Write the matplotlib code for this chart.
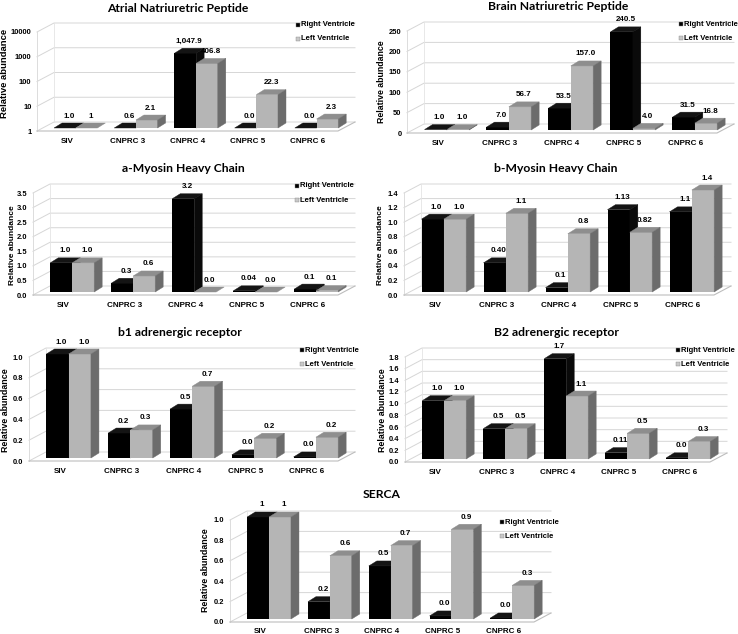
import matplotlib
matplotlib.use("Agg")
import matplotlib.pyplot as plt
from matplotlib.patches import Polygon, Rectangle
from matplotlib.transforms import IdentityTransform, ScaledTranslation

# ---------------- data ----------------
categories = ["SIV", "CNPRC 3", "CNPRC 4", "CNPRC 5", "CNPRC 6"]
series_names = ["Right Ventricle", "Left Ventricle"]

anp_rv = [1.0, 0.6, 1047.9, 0.0, 0.0]
anp_lv = [1.0, 2.1, 406.8, 22.3, 2.3]
anp_rv_labels = ["1.0", "0.6", "1,047.9", "0.0", "0.0"]
anp_lv_labels = ["1", "2.1", "406.8", "22.3", "2.3"]
anp_ticks = [1, 10, 100, 1000, 10000]
anp_tick_labels = ["1", "10", "100", "1000", "10000"]

bnp_rv = [1.0, 7.0, 53.5, 240.5, 31.5]
bnp_lv = [1.0, 56.7, 157.0, 4.0, 16.8]
bnp_rv_labels = ["1.0", "7.0", "53.5", "240.5", "31.5"]
bnp_lv_labels = ["1.0", "56.7", "157.0", "4.0", "16.8"]
bnp_ticks = [0, 50, 100, 150, 200, 250]
bnp_tick_labels = ["0", "50", "100", "150", "200", "250"]

amhc_rv = [1.0, 0.3, 3.2, 0.04, 0.1]
amhc_lv = [1.0, 0.55, 0.0, 0.0, 0.05]
amhc_rv_labels = ["1.0", "0.3", "3.2", "0.04", "0.1"]
amhc_lv_labels = ["1.0", "0.6", "0.0", "0.0", "0.1"]
amhc_ticks = [0.0, 0.5, 1.0, 1.5, 2.0, 2.5, 3.0, 3.5]
amhc_tick_labels = ["0.0", "0.5", "1.0", "1.5", "2.0", "2.5", "3.0", "3.5"]

bmhc_rv = [1.0, 0.40, 0.06, 1.13, 1.1]
bmhc_lv = [1.0, 1.08, 0.8, 0.82, 1.4]
bmhc_rv_labels = ["1.0", "0.40", "0.1", "1.13", "1.1"]
bmhc_lv_labels = ["1.0", "1.1", "0.8", "0.82", "1.4"]
bmhc_ticks = [0.0, 0.2, 0.4, 0.6, 0.8, 1.0, 1.2, 1.4]
bmhc_tick_labels = ["0.0", "0.2", "0.4", "0.6", "0.8", "1.0", "1.2", "1.4"]

b1_rv = [1.0, 0.24, 0.47, 0.03, 0.01]
b1_lv = [1.0, 0.27, 0.69, 0.19, 0.2]
b1_rv_labels = ["1.0", "0.2", "0.5", "0.0", "0.0"]
b1_lv_labels = ["1.0", "0.3", "0.7", "0.2", "0.2"]
b1_ticks = [0.0, 0.2, 0.4, 0.6, 0.8, 1.0]
b1_tick_labels = ["0.0", "0.2", "0.4", "0.6", "0.8", "1.0"]

b2_rv = [1.0, 0.52, 1.72, 0.11, 0.02]
b2_lv = [1.0, 0.52, 1.08, 0.44, 0.3]
b2_rv_labels = ["1.0", "0.5", "1.7", "0.11", "0.0"]
b2_lv_labels = ["1.0", "0.5", "1.1", "0.5", "0.3"]
b2_ticks = [0.0, 0.2, 0.4, 0.6, 0.8, 1.0, 1.2, 1.4, 1.6, 1.8]
b2_tick_labels = ["0.0", "0.2", "0.4", "0.6", "0.8", "1.0", "1.2", "1.4", "1.6", "1.8"]

serca_rv = [1.0, 0.17, 0.52, 0.03, 0.01]
serca_lv = [1.0, 0.62, 0.72, 0.88, 0.33]
serca_rv_labels = ["1", "0.2", "0.5", "0.0", "0.0"]
serca_lv_labels = ["1", "0.6", "0.7", "0.9", "0.3"]
serca_ticks = [0.0, 0.2, 0.4, 0.6, 0.8, 1.0]
serca_tick_labels = ["0.0", "0.2", "0.4", "0.6", "0.8", "1.0"]

titles = ["Atrial Natriuretric Peptide", "Brain Natriuretric Peptide",
          "a-Myosin Heavy Chain", "b-Myosin Heavy Chain",
          "b1 adrenergic receptor", "B2 adrenergic receptor", "SERCA"]
y_title = "Relative abundance"

# ---------------- layout (figure pixels, y from top) ----------------
W, H = 738, 634
fig = plt.figure(figsize=(W / 100, H / 100), dpi=100)
fig.patch.set_facecolor("white")

BOLD = dict(family="Liberation Sans", weight="bold")
TITLE_FONT = dict(family="Lato", weight="bold", size=8.7)

panels = [
    dict(title=titles[0], rv=anp_rv, lv=anp_lv, rvl=anp_rv_labels, lvl=anp_lv_labels,
         ticks=anp_ticks, tl=anp_tick_labels, log=True,
         box=(37, 338, 131, 32), tpos=(178, 8), leg=(298, 25), ylab=(5, 73, 6.8), xpad=5),
    dict(title=titles[1], rv=bnp_rv, lv=bnp_lv, rvl=bnp_rv_labels, lvl=bnp_lv_labels,
         ticks=bnp_ticks, tl=bnp_tick_labels, log=False,
         box=(407, 717, 133, 31), tpos=(558, 7), leg=(681, 24), ylab=(381, 82, 6.3), xpad=5),
    dict(title=titles[2], rv=amhc_rv, lv=amhc_lv, rvl=amhc_rv_labels, lvl=amhc_lv_labels,
         ticks=amhc_ticks, tl=amhc_tick_labels, log=False,
         box=(33, 338, 295, 193), tpos=(183, 168), leg=(297, 186), ylab=(12, 245, 6.0), xpad=5),
    dict(title=titles[3], rv=bmhc_rv, lv=bmhc_lv, rvl=bmhc_rv_labels, lvl=bmhc_lv_labels,
         ticks=bmhc_ticks, tl=bmhc_tick_labels, log=False,
         box=(404, 714, 295, 193), tpos=(556, 168), leg=None, ylab=(381, 245, 6.0), xpad=5),
    dict(title=titles[4], rv=b1_rv, lv=b1_lv, rvl=b1_rv_labels, lvl=b1_lv_labels,
         ticks=b1_ticks, tl=b1_tick_labels, log=False,
         box=(29, 338, 461, 357), tpos=(180, 333), leg=(302, 350), ylab=(6, 410, 6.4), xpad=5),
    dict(title=titles[5], rv=b2_rv, lv=b2_lv, rvl=b2_rv_labels, lvl=b2_lv_labels,
         ticks=b2_ticks, tl=b2_tick_labels, log=False,
         box=(405, 710, 462, 357), tpos=(557, 333), leg=(678, 350), ylab=(382, 410, 6.4), xpad=5),
    dict(title=titles[6], rv=serca_rv, lv=serca_lv, rvl=serca_rv_labels, lvl=serca_lv_labels,
         ticks=serca_ticks, tl=serca_tick_labels, log=False,
         box=(230, 534, 622, 520), tpos=(382, 495), leg=(502, 522), ylab=(205, 570, 6.4), xpad=4),
]

WALL = (17, 9)      # back-wall depth offset in pixels (right, up)
FRONT = (2, 3)      # bar front-face offset from the floor front edge
DEPTH = (8, 5)      # bar depth (right, up)
BW = 0.36           # bar width (category units)
SHIFT = -0.25       # left edge of the pair relative to category centre

COL = {
    0: dict(front="#000000", top="#141414", side="#0a0a0a", leg="#000000"),
    1: dict(front="#b5b5b5", top="#8e8e8e", side="#6c6c6c", leg="#c8c8c8"),
}

ident = IdentityTransform()


def poly(ax, pts, color, z):
    p = Polygon(pts, closed=True, facecolor=color, edgecolor=color, lw=0.3,
                transform=ident, zorder=z, clip_on=False)
    ax.add_artist(p)


def line(ax, xs, ys, color, lw=0.8, z=0.5):
    ax.add_artist(plt.Line2D(xs, ys, color=color, lw=lw, transform=ident,
                             zorder=z, clip_on=False))


for pan in panels:
    x0, x1, y0, yt = pan["box"]
    ax = fig.add_axes([x0 / W, 1 - y0 / H, (x1 - x0) / W, (y0 - yt) / H])
    ax.set_xlim(-0.5, len(categories) - 0.5)
    if pan["log"]:
        ax.set_yscale("log")
    ax.set_ylim(pan["ticks"][0], pan["ticks"][-1])
    base = pan["ticks"][0]
    for s in ax.spines.values():
        s.set_visible(False)
    ax.patch.set_visible(False)

    # ticks
    ax.set_xticks(range(len(categories)))
    ax.set_xticklabels(categories, fontsize=5.8, **BOLD)
    ax.set_yticks(pan["ticks"])
    ax.set_yticklabels(pan["tl"], fontsize=5.4, **BOLD)
    ax.minorticks_off()
    ax.tick_params(axis="both", length=0)
    ax.tick_params(axis="y", pad=4)
    ax.tick_params(axis="x", pad=pan["xpad"])

    lx, ly, ls = pan["ylab"]
    fig.text(lx / W, 1 - ly / H, y_title, rotation=90, ha="center", va="center",
             fontsize=ls, **BOLD)

    T = ax.transData.transform

    # walls, floor and gridlines
    xl = ax.get_xlim()
    for t in pan["ticks"]:
        (px0, py), = T([(xl[0], t)])
        (px1, _), = T([(xl[1], t)])
        line(ax, [px0, px0 + WALL[0], px1 + WALL[0]],
             [py, py + WALL[1], py + WALL[1]], "#d6d6d6", 0.7)
    (fx0, fy0), = T([(xl[0], base)])
    (fx1, _), = T([(xl[1], base)])
    (_, fyt), = T([(xl[0], pan["ticks"][-1])])
    line(ax, [fx0, fx0], [fy0, fyt], "#dcdcdc", 0.7)
    line(ax, [fx0 + WALL[0], fx0 + WALL[0]], [fy0 + WALL[1], fyt + WALL[1]], "#e4e4e4", 0.6)
    line(ax, [fx0, fx1, fx1 + WALL[0]], [fy0, fy0, fy0 + WALL[1]], "#bdbdbd", 0.8)

    # bars
    for k, vals, labs in ((0, pan["rv"], pan["rvl"]), (1, pan["lv"], pan["lvl"])):
        c = COL[k]
        z = 2 + k
        xs = [i + SHIFT + k * BW for i in range(len(categories))]
        heights = [max(v, base) - base for v in vals]
        off = ScaledTranslation(FRONT[0] / 100, FRONT[1] / 100, fig.dpi_scale_trans)
        ax.bar(xs, heights, width=BW, bottom=base, align="edge", color=c["front"],
               linewidth=0, zorder=z, transform=ax.transData + off, clip_on=False)
        for x, v, lab in zip(xs, vals, labs):
            top = max(v, base)
            (ax_, ay), = T([(x, top)])
            (bx_, by), = T([(x + BW, base)])
            ax_ += FRONT[0]; bx_ += FRONT[0]; ay += FRONT[1]; by += FRONT[1]
            dx, dy = DEPTH
            poly(ax, [(ax_, ay), (bx_, ay), (bx_ + dx, ay + dy), (ax_ + dx, ay + dy)], c["top"], z)
            if ay - by > 0.3:
                poly(ax, [(bx_, by), (bx_, ay), (bx_ + dx, ay + dy), (bx_ + dx, by + dy)], c["side"], z)
            ax.annotate(lab, xy=(x + BW / 2, top), xytext=(FRONT[0] + dx / 2, FRONT[1] + dy + 7),
                        textcoords="offset pixels", ha="center", va="center",
                        fontsize=5.8, zorder=5, annotation_clip=False, **BOLD)

    # title
    fig.text(pan["tpos"][0] / W, 1 - pan["tpos"][1] / H, pan["title"],
             ha="center", va="center", **TITLE_FONT)

    # legend
    if pan["leg"] is not None:
        gx, gy = pan["leg"]
        for k, name in enumerate(series_names):
            yy = gy + 14 * k
            fig.add_artist(Rectangle((gx - 2, H - yy - 2), 4, 4, transform=ident,
                                     facecolor=COL[k]["leg"], edgecolor="#888888", lw=0.3))
            fig.text((gx + 3) / W, 1 - yy / H, name, ha="left", va="center",
                     fontsize=5.5, **BOLD)

fig.savefig("out.png", dpi=100, facecolor="white")
